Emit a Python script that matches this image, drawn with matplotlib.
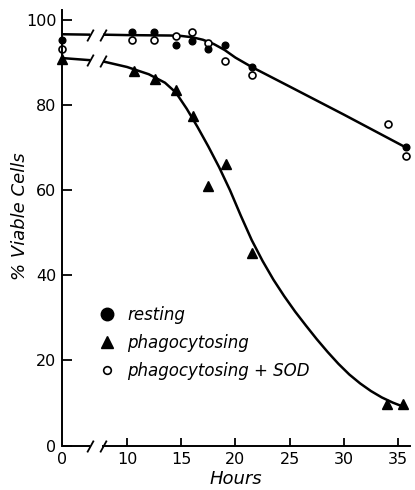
import matplotlib
matplotlib.use("Agg")
import matplotlib.pyplot as plt
import numpy as np
from matplotlib.path import Path
from matplotlib.lines import Line2D

FIG_SIZE = (4.15, 4.9)
DPI = 100
FONT = "DejaVu Sans"

# x axis has a break between 0 and 10 h: "0 h" sits at ZERO_POS on the axis
ZERO_POS = 4.0
BREAK_LO = 6.6
BREAK_HI = 7.8

# measured points
hours_resting = [0, 10.5, 12.5, 14.5, 16.0, 17.5, 19.0, 21.5, 35.7]
resting = [95.4, 97.2, 97.2, 94.2, 95.0, 93.3, 94.1, 89.1, 70.1]

hours_phago = [0, 10.6, 12.6, 14.5, 16.1, 17.5, 19.1, 21.5, 34.0, 35.5]
phago = [90.9, 88.1, 86.2, 83.5, 77.5, 61.1, 66.2, 45.2, 9.8, 9.8]

hours_sod = [0, 10.5, 12.5, 14.5, 16.0, 17.5, 19.0, 21.5, 34.1, 35.7]
sod = [93.2, 95.3, 95.4, 96.2, 97.2, 94.6, 90.5, 87.2, 75.6, 68.1]

# hand drawn fit lines
resting_fit_pre = [96.7, 96.6]          # at 0 h and at the break
resting_fit_hours = [BREAK_HI, 10, 14, 15, 16, 17, 18, 19, 20, 21.5, 25, 30, 35.7]
resting_fit = [96.6, 96.5, 96.4, 96.3, 96.0, 95.4, 94.4, 93.0, 91.2, 89.0, 84.4, 77.8, 70.1]

phago_fit_pre = [91.1, 90.6]
phago_fit_hours = [BREAK_HI, 10, 12, 13.5, 14.5, 15.5, 16.5, 17.5, 18.5, 19.5, 20.5,
                   21.5, 22.5, 23.5, 24.5, 25.5, 26.5, 27.5, 28.5, 29.5, 30.5, 31.5,
                   32.5, 33.5, 34.5, 35.6]
phago_fit = [90.3, 89.0, 87.3, 85.3, 83.0, 79.2, 74.9, 70.3, 65.4, 60.0, 54.0,
             48.3, 43.4, 39.0, 35.1, 31.5, 28.2, 25.0, 22.0, 19.2, 16.7, 14.6,
             12.8, 11.3, 10.1, 9.0]

x_ticks = [0, 10, 15, 20, 25, 30, 35]
y_ticks = [0, 20, 40, 60, 80, 100]

SLASH = Path([(-0.55, -1), (0.55, 1)], [Path.MOVETO, Path.LINETO])


def axis_x(hours):
    h = np.asarray(hours, dtype=float)
    return np.where(h < 10, ZERO_POS + h, h)


def draw_fit(ax, pre, hours, values):
    ax.plot([ZERO_POS, BREAK_LO], pre, color="black", lw=1.8, solid_capstyle="butt")
    ax.plot(hours, values, color="black", lw=1.8, solid_capstyle="butt",
            solid_joinstyle="round")
    ax.plot([BREAK_LO, BREAK_HI], [pre[1], values[0]], ls="none", marker=SLASH,
            markersize=8.5, markeredgewidth=1.3, color="black")


fig = plt.figure(figsize=FIG_SIZE, dpi=DPI)
ax = fig.add_axes([62 / 415, 44.5 / 490, (410 - 62) / 415, (445.5 - 10) / 490])

draw_fit(ax, resting_fit_pre, resting_fit_hours, resting_fit)
draw_fit(ax, phago_fit_pre, phago_fit_hours, phago_fit)

ax.plot(axis_x(hours_phago), phago, ls="none", marker="^", markersize=7.5,
        color="black", clip_on=False)
ax.plot(axis_x(hours_sod), sod, ls="none", marker="o", markersize=5,
        markerfacecolor="white", markeredgecolor="black", markeredgewidth=1.2, clip_on=False)
ax.plot(axis_x(hours_resting), resting, ls="none", marker="o", markersize=4.8,
        color="black", clip_on=False)

ax.set_xlim(ZERO_POS, 36.1)
ax.set_ylim(0, 102.4)

# axes frame with the break
for side in ("top", "right"):
    ax.spines[side].set_visible(False)
ax.spines["left"].set_linewidth(1.4)
ax.spines["bottom"].set_linewidth(1.4)
ax.spines["bottom"].set_bounds(BREAK_HI, 36.1)
xt = ax.get_xaxis_transform()
ax.plot([ZERO_POS, BREAK_LO], [0, 0], color="black", lw=1.4, transform=xt, clip_on=False,
        solid_capstyle="butt")
ax.plot([BREAK_LO, BREAK_HI], [0, 0], ls="none", marker=SLASH, markersize=8.5,
        markeredgewidth=1.3, color="black", transform=xt, clip_on=False)

ax.set_xticks(axis_x(x_ticks))
ax.set_xticklabels([str(t) for t in x_ticks])
ax.set_yticks(y_ticks)
ax.tick_params(axis="x", direction="in", length=6, width=1.3, pad=5, labelsize=11.5)
ax.tick_params(axis="y", direction="in", length=7, width=1.3, pad=4, labelsize=11.5)
ax.xaxis.get_major_ticks()[0].tick1line.set_visible(False)
for lab in ax.get_xticklabels() + ax.get_yticklabels():
    lab.set_family(FONT)

ax.set_xlabel("Hours", fontsize=13, style="italic", family=FONT, labelpad=2)
ax.set_ylabel("% Viable Cells", fontsize=13, style="italic", family=FONT)
ax.yaxis.set_label_coords(-0.095, 0.527)

handles = [
    Line2D([], [], ls="none", marker="o", markersize=9, color="black"),
    Line2D([], [], ls="none", marker="^", markersize=8, color="black"),
    Line2D([], [], ls="none", marker="o", markersize=5.5, markerfacecolor="white",
           markeredgecolor="black", markeredgewidth=1.2),
]
labels = ["resting", "phagocytosing", "phagocytosing + SOD"]
ax.legend(handles, labels, loc="upper left", bbox_to_anchor=(0.061, 0.354), frameon=False,
          handlelength=1.0, handletextpad=0.75, labelspacing=0.58,
          prop={"family": FONT, "style": "italic", "size": 12})

fig.savefig("out.png", dpi=DPI)
